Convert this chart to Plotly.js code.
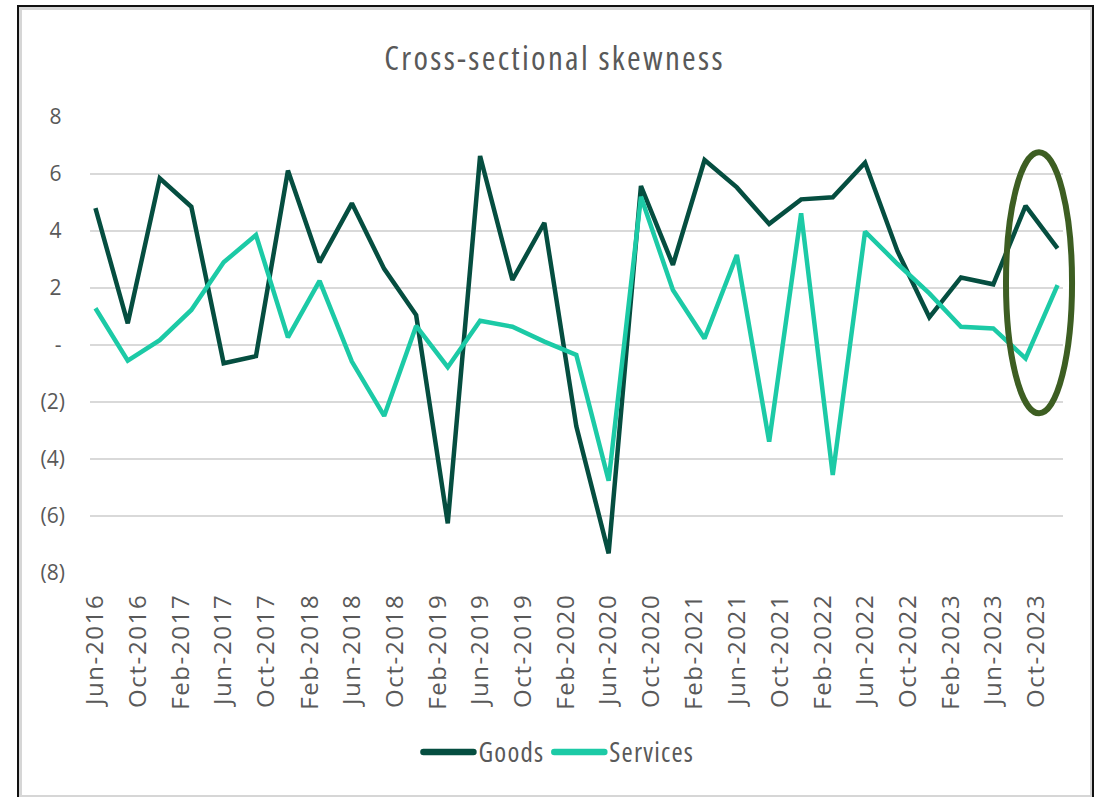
<!DOCTYPE html>
<html>
<head>
<meta charset="utf-8">
<script src="https://cdn.plot.ly/plotly-3.0.1.min.js"></script>
<style>
  html, body { margin: 0; padding: 0; background: #ffffff; overflow: hidden; }
  #wrap { position: relative; width: 1096px; height: 797px; }
  #chart { position: absolute; left: 0; top: 0; width: 1096px; height: 797px; }
  #frameOuter { position: absolute; left: 17px; top: 5px; width: 1073px; height: 820px;
                border: 2px solid #111111; pointer-events: none; }
  #frameInner { position: absolute; left: 19px; top: 7px; width: 1068px; height: 785px;
                border: 3px solid #d6d6d6; pointer-events: none; }
  .gtitle { font-stretch: 75% !important; letter-spacing: 2.3px; }
  .legendtext { font-stretch: 75% !important; letter-spacing: 1.2px; }
  .legendlines path { stroke-width: 6.5px !important; stroke-linecap: round !important; }
  .xtick text { letter-spacing: 1.6px; }
</style>
</head>
<body>
<div id="wrap">
  <div id="chart"></div>
  <div id="frameInner"></div>
  <div id="frameOuter"></div>
</div>
<script>
// Quarterly observation dates
const quarters = [
  '2016-06-01','2016-09-01','2016-12-01',
  '2017-03-01','2017-06-01','2017-09-01','2017-12-01',
  '2018-03-01','2018-06-01','2018-09-01','2018-12-01',
  '2019-03-01','2019-06-01','2019-09-01','2019-12-01',
  '2020-03-01','2020-06-01','2020-09-01','2020-12-01',
  '2021-03-01','2021-06-01','2021-09-01','2021-12-01',
  '2022-03-01','2022-06-01','2022-09-01','2022-12-01',
  '2023-03-01','2023-06-01','2023-09-01','2023-12-01'
];

const goods = [
  4.8, 0.76, 5.85,
  4.85, -0.64, -0.39, 6.12,
  2.9, 4.97, 2.67, 1.05,
  -6.26, 6.63, 2.28, 4.29,
  -2.85, -7.31, 5.58, 2.81,
  6.49, 5.53, 4.25, 5.11,
  5.18, 6.4, 3.3, 0.97,
  2.37, 2.13, 4.88, 3.39
];

const services = [
  1.29, -0.55, 0.17,
  1.23, 2.9, 3.86, 0.27,
  2.25, -0.58, -2.49, 0.67,
  -0.78, 0.85, 0.64, 0.12,
  -0.35, -4.76, 5.2, 1.93,
  0.23, 3.16, -3.39, 4.62,
  -4.56, 3.98, 2.85, 1.81,
  0.64, 0.58, -0.47, 2.1
];

const yTickVals = [-8, -6, -4, -2, 0, 2, 4, 6, 8];
const yTickText = ['(8)', '(6)', '(4)', '(2)', '-\u2009', '2\u2009', '4\u2009', '6\u2009', '8\u2009'];

const seriesNames = ['Goods', 'Services'];
const seriesColors = ['#054e40', '#1ccaa6'];

const traces = [
  { x: quarters, y: goods, name: seriesNames[0], type: 'scatter', mode: 'lines',
    line: { color: seriesColors[0], width: 4.5 } },
  { x: quarters, y: services, name: seriesNames[1], type: 'scatter', mode: 'lines',
    line: { color: seriesColors[1], width: 4.5 } }
];

const textGray = '#595959';

const layout = {
  width: 1096, height: 797,
  margin: { l: 90, r: 33, t: 116, b: 223, pad: 0 },
  paper_bgcolor: '#ffffff', plot_bgcolor: '#ffffff',
  font: { family: '"Open Sans", sans-serif', color: textGray },
  title: {
    text: 'Cross-sectional skewness',
    font: { family: '"Open Sans", sans-serif', size: 33, color: textGray },
    x: 0.506, xanchor: 'center', xref: 'container',
    y: 0.927, yanchor: 'middle', yref: 'container'
  },
  xaxis: {
    type: 'date',
    range: ['2016-05-16 12:00', '2023-12-16 12:00'],
    tickmode: 'linear', tick0: '2016-06-01', dtick: 'M4',
    tickformat: '%b-%Y', tickangle: -90,
    tickfont: { family: '"Open Sans", sans-serif', size: 24, color: textGray },
    showgrid: false, zeroline: false, showline: false, ticks: '',
    ticklabelstandoff: 14
  },
  yaxis: {
    range: [-8.035, 8.035],
    tickmode: 'array', tickvals: yTickVals, ticktext: yTickText,
    tickfont: { family: '"Open Sans", sans-serif', size: 21, color: textGray },
    showgrid: true, gridcolor: '#d9d9d9', gridwidth: 1.6,
    zeroline: false, showline: false, ticks: '',
    ticklabelstandoff: 24
  },
  showlegend: true,
  legend: {
    orientation: 'h', xref: 'container', yref: 'container',
    x: 0.51, xanchor: 'center', y: 0.056, yanchor: 'middle',
    font: { family: '"Open Sans", sans-serif', size: 27, color: textGray },
    itemwidth: 50, tracegroupgap: 0, bgcolor: 'rgba(0,0,0,0)'
  },
  shapes: [
    { type: 'circle', xref: 'paper', yref: 'paper',
      x0: 0.9414, x1: 1.0093, y0: 0.351, y1: 0.921,
      line: { color: '#3d5e22', width: 6 }, fillcolor: 'rgba(0,0,0,0)', layer: 'above' }
  ]
};

Plotly.newPlot('chart', traces, layout, { displayModeBar: false, staticPlot: true });
</script>
</body>
</html>
